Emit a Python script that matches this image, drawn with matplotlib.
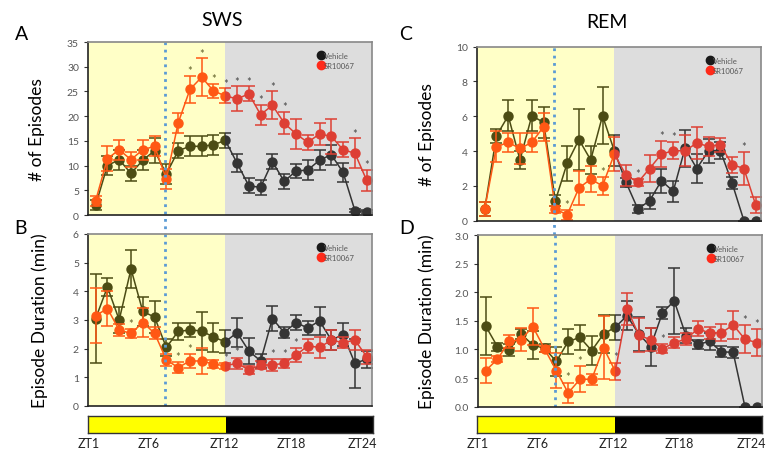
import numpy as np
import matplotlib.pyplot as plt
from matplotlib.lines import Line2D

plt.rcParams['font.family'] = ['Lato', 'DejaVu Sans']

zt = np.arange(1, 25)

# SWS number of episodes (mean, sem)
sws_n_veh = [2.0, 10.0, 11.2, 8.4, 11.1, 13.0, 8.3, 13.0, 13.9, 13.9, 14.2, 15.1,
             10.5, 5.9, 5.6, 10.8, 6.8, 8.9, 9.1, 11.1, 12.2, 8.6, 0.9, 0.7]
sws_n_veh_err = [1.0, 2.0, 2.0, 1.5, 2.0, 2.5, 2.0, 1.5, 2.0, 2.0, 2.0, 1.5,
                 1.8, 1.5, 1.5, 1.5, 1.5, 1.5, 2.0, 2.0, 2.0, 2.0, 0.3, 0.3]
sws_n_sr = [2.9, 11.4, 13.2, 11.2, 13.2, 13.9, 7.3, 18.6, 25.4, 27.9, 25.1, 24.1,
            23.5, 24.5, 20.3, 22.2, 18.6, 16.4, 14.7, 16.4, 15.9, 13.2, 12.5, 7.0]
sws_n_sr_err = [1.0, 2.5, 2.0, 1.5, 2.0, 2.0, 2.0, 2.0, 2.8, 3.8, 1.5, 1.5,
                2.5, 1.5, 2.0, 2.8, 2.3, 3.0, 1.5, 2.2, 3.5, 1.5, 3.0, 2.2]
sws_n_sig = [9, 10, 11, 12, 13, 14, 15, 16, 17, 23, 24]

# SWS episode duration (min)
sws_d_veh = [3.05, 4.15, 3.0, 4.78, 3.3, 3.1, 2.04, 2.6, 2.65, 2.62, 2.4, 2.24,
             2.56, 1.92, 1.57, 3.05, 2.56, 2.91, 2.72, 2.97, 2.3, 2.49, 1.49, 1.63]
sws_d_veh_err = [1.55, 0.3, 0.45, 0.65, 0.5, 0.55, 0.3, 0.3, 0.25, 0.65, 0.5, 0.4,
                 0.5, 0.45, 0.25, 0.45, 0.2, 0.25, 0.25, 0.5, 0.35, 0.4, 0.85, 0.3]
sws_d_sr = [3.15, 3.4, 2.65, 2.53, 2.91, 2.54, 1.61, 1.34, 1.57, 1.57, 1.46, 1.4,
            1.49, 1.26, 1.43, 1.43, 1.49, 1.77, 2.1, 2.04, 2.3, 2.21, 2.3, 1.72]
sws_d_sr_err = [0.95, 0.6, 0.2, 0.15, 0.5, 0.2, 0.2, 0.2, 0.25, 0.45, 0.15, 0.1,
                0.2, 0.15, 0.15, 0.2, 0.15, 0.25, 0.25, 0.35, 0.35, 0.2, 0.35, 0.25]
sws_d_sig = [4, 8, 9, 12, 13, 16, 17, 18]

# REM number of episodes
rem_n_veh = [0.65, 4.88, 6.03, 3.49, 6.03, 5.65, 1.15, 3.31, 4.66, 3.49, 6.03, 4.02,
             2.2, 0.67, 1.15, 2.3, 1.69, 4.16, 3.0, 4.02, 4.02, 2.16, 0.0, 0.0]
rem_n_veh_err = [0.4, 0.4, 0.9, 0.5, 0.9, 0.9, 0.3, 1.0, 1.75, 0.8, 1.65, 0.9,
                 0.25, 0.25, 0.45, 0.7, 0.6, 1.05, 0.85, 0.7, 0.5, 0.35, 0.0, 0.0]
rem_n_sr = [0.67, 4.25, 4.5, 4.15, 4.5, 5.4, 0.67, 0.34, 1.88, 2.39, 2.0, 3.83,
            2.62, 2.2, 3.0, 3.83, 4.02, 4.02, 4.46, 4.27, 4.37, 3.22, 3.0, 0.9]
rem_n_sr_err = [0.4, 0.9, 0.55, 0.9, 0.55, 0.8, 0.2, 0.3, 1.0, 0.75, 0.5, 1.0,
                0.6, 0.2, 0.75, 0.75, 0.5, 0.9, 0.9, 0.55, 0.4, 0.45, 0.95, 0.45]
rem_n_sig = [8, 11, 14, 16, 17, 23]

# REM episode duration (min)
rem_d_veh = [1.41, 1.05, 0.99, 1.27, 1.08, 1.02, 0.79, 1.14, 1.21, 0.98, 1.27, 1.39,
             1.59, 1.27, 1.05, 1.64, 1.85, 1.24, 1.09, 1.14, 0.96, 0.95, 0.0, 0.0]
rem_d_veh_err = [0.5, 0.07, 0.1, 0.08, 0.25, 0.07, 0.25, 0.22, 0.22, 0.25, 0.33, 0.22,
                 0.25, 0.3, 0.33, 0.1, 0.58, 0.13, 0.08, 0.15, 0.1, 0.1, 0.0, 0.0]
rem_d_sr = [0.63, 0.83, 1.14, 1.17, 1.40, 1.01, 0.63, 0.24, 0.48, 0.48, 1.03, 0.62,
            1.71, 1.25, 1.17, 1.01, 1.12, 1.18, 1.36, 1.29, 1.29, 1.43, 1.18, 1.12]
rem_d_sr_err = [0.22, 0.05, 0.12, 0.2, 0.33, 0.05, 0.3, 0.18, 0.23, 0.1, 0.55, 0.15,
                0.28, 0.3, 0.2, 0.08, 0.1, 0.1, 0.13, 0.1, 0.15, 0.25, 0.25, 0.23]
rem_d_sig = [8, 9, 12, 16, 23, 24]

zt_labels = ['ZT1', 'ZT6', 'ZT12', 'ZT18', 'ZT24']
zt_label_pos = [0.4, 5.5, 11.9, 17.5, 23.55]
dark_end = 24.45
light_start = 0.35
lights_off = 12
injection = 6.9

veh_color = '#1a1a1a'
sr_color = '#ff2a1a'


def episode_panel(ax, veh, veh_err, sr, sr_err, sig, ymax, ystep, star_off, fmt):
    ax.errorbar(zt, veh, yerr=veh_err, fmt='-o', color=veh_color, ms=6.5, lw=1.1,
                elinewidth=1.1, capsize=4, capthick=1.1, zorder=2)
    ax.errorbar(zt, sr, yerr=sr_err, fmt='-o', color=sr_color, ms=6.5, lw=1.1,
                elinewidth=1.1, capsize=4, capthick=1.1, zorder=2.2)
    for i in sig:
        ax.text(i, sr[i - 1] + sr_err[i - 1] + star_off, '*', ha='center', va='center',
                fontsize=8, color='#333333', zorder=2.4)
    # light / dark phase tint laid over the data
    ax.axvspan(light_start, lights_off, color='#ffff00', alpha=0.22, lw=0, zorder=3)
    ax.axvspan(lights_off, dark_end, color='#7f7f7f', alpha=0.26, lw=0, zorder=3)
    ax.set_xlim(light_start, dark_end)
    ax.set_ylim(0, ymax)
    ax.set_yticks(np.arange(0, ymax + ystep / 2, ystep))
    ax.yaxis.set_major_formatter(plt.FormatStrFormatter(fmt))
    ax.set_xticks([])
    ax.tick_params(axis='y', labelsize=7.5, labelcolor='#555555', length=3, color='#333333')
    for side in ['top', 'right']:
        ax.spines[side].set_color('#888888')
    for side in ['left', 'bottom']:
        ax.spines[side].set_color('#222222')
    for sp in ax.spines.values():
        sp.set_linewidth(1.2)
        sp.set_zorder(5)
    handles = [Line2D([], [], ls='none', marker='o', ms=6, color=veh_color),
               Line2D([], [], ls='none', marker='o', ms=6, color=sr_color)]
    leg = ax.legend(handles, ['Vehicle', 'SR10067'], loc='upper left',
                    bbox_to_anchor=(0.8, 0.96), frameon=False, fontsize=5.5,
                    handlelength=0.6, handletextpad=0.1, labelspacing=0.4, borderaxespad=0)
    leg.set_zorder(6)
    for t in leg.get_texts():
        t.set_color('#555555')


def phase_bar(ax):
    ax.axvspan(light_start, lights_off, color='#ffff00', lw=0)
    ax.axvspan(lights_off, dark_end, color='black', lw=0)
    ax.set_xlim(light_start, dark_end)
    ax.set_ylim(0, 1)
    ax.set_yticks([])
    ax.set_xticks(zt_label_pos)
    ax.set_xticklabels(zt_labels)
    ax.tick_params(axis='x', length=0, labelsize=9, pad=3, labelcolor='#222222')
    for sp in ax.spines.values():
        sp.set_color('#333333')
        sp.set_linewidth(1)


fig = plt.figure(figsize=(7.67, 4.56), dpi=100)

ax_a = fig.add_axes([0.1147, 0.5263, 0.3703, 0.3794])
ax_b = fig.add_axes([0.1147, 0.1075, 0.3703, 0.3772])
bar_l = fig.add_axes([0.1147, 0.0482, 0.3716, 0.0373])
ax_c = fig.add_axes([0.6219, 0.5138, 0.3703, 0.3816])
ax_d = fig.add_axes([0.6232, 0.1059, 0.3703, 0.3765])
bar_r = fig.add_axes([0.6215, 0.0482, 0.3720, 0.0373])

episode_panel(ax_a, sws_n_veh, sws_n_veh_err, sws_n_sr, sws_n_sr_err, sws_n_sig, 35, 5, 1.0, '%d')
episode_panel(ax_b, sws_d_veh, sws_d_veh_err, sws_d_sr, sws_d_sr_err, sws_d_sig, 6, 1, 0.2, '%d')
episode_panel(ax_c, rem_n_veh, rem_n_veh_err, rem_n_sr, rem_n_sr_err, rem_n_sig, 10, 2, 0.3, '%d')
episode_panel(ax_d, rem_d_veh, rem_d_veh_err, rem_d_sr, rem_d_sr_err, rem_d_sig, 3.0, 0.5, 0.1, '%.1f')
phase_bar(bar_l)
phase_bar(bar_r)

ax_a.set_ylabel('# of Episodes', fontsize=12.5)
ax_b.set_ylabel('Episode Duration (min)', fontsize=12.5)
ax_c.set_ylabel('# of Episodes', fontsize=12.5)
ax_d.set_ylabel('Episode Duration (min)', fontsize=12.5)
ax_a.yaxis.set_label_coords(-0.15, 0.5)
ax_b.yaxis.set_label_coords(-0.14, 0.5)
ax_c.yaxis.set_label_coords(-0.148, 0.5)
ax_d.yaxis.set_label_coords(-0.15, 0.5)

# injection time marker running through both panels of each column
for top, bottom in [(ax_a, ax_b), (ax_c, ax_d)]:
    top.axvline(injection, ymin=-0.12, ymax=1, color='#5b9bd5', ls=':', lw=2,
                clip_on=False, zorder=4)
    bottom.axvline(injection, color='#5b9bd5', ls=':', lw=2, zorder=4)

fig.text(0.289, 0.955, 'SWS', ha='center', va='center', fontsize=14)
fig.text(0.791, 0.950, 'REM', ha='center', va='center', fontsize=14)
fig.text(0.020, 0.925, 'A', ha='left', va='center', fontsize=14)
fig.text(0.018, 0.498, 'B', ha='left', va='center', fontsize=14)
fig.text(0.521, 0.925, 'C', ha='left', va='center', fontsize=14)
fig.text(0.521, 0.498, 'D', ha='left', va='center', fontsize=14)

plt.savefig('out.png', dpi=100)
plt.close()
